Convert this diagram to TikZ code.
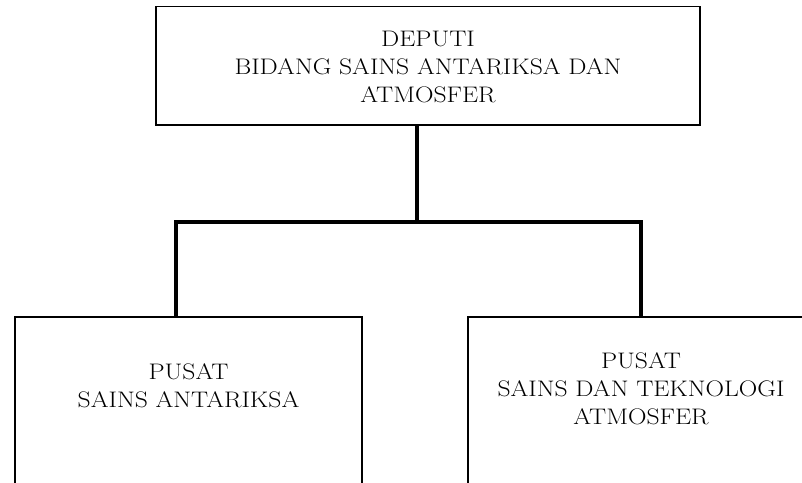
\documentclass[tikz,border=0pt]{standalone}
\tikzset{
  box/.style={draw=black, line width=1.6pt, rectangle, inner sep=0pt},
  lbl/.style={align=center, font=\fontsize{22.5}{28}\selectfont, inner sep=0pt, transform shape},
  conn/.style={draw=black, line width=3.6pt, line join=miter},
  connshadow/.style={draw=black!35, line width=3.6pt, line join=miter}
}
\begin{document}
\begin{tikzpicture}[x=1pt,y=-1pt]
\useasboundingbox (0,0) rectangle (802,482);
\clip (0,0) rectangle (802,482);
\fill[white] (0,0) rectangle (802,482);
% boxes
\node[box, minimum width=544pt, minimum height=118.5pt] (top) at (428,65.75) {};
\node[box, minimum width=347pt, minimum height=183pt] (left) at (188.5,408.5) {};
\node[box, minimum width=346pt, minimum height=183pt] (right) at (641,408.5) {};
% texts (horizontally widened like the original typeface)
\begin{scope}[shift={(428,67)}, xscale=1.14]
  \node[lbl] (toptext) at (0,0) {DEPUTI\\BIDANG SAINS ANTARIKSA DAN\\ATMOSFER};
\end{scope}
\begin{scope}[shift={(188.5,386)}, xscale=1.14]
  \node[lbl] (lefttext) at (0,0) {PUSAT\\SAINS ANTARIKSA};
\end{scope}
\begin{scope}[shift={(641,389)}, xscale=1.14]
  \node[lbl] (righttext) at (0,0) {PUSAT\\SAINS DAN TEKNOLOGI\\ATMOSFER};
\end{scope}
% connector junctions
\coordinate (j) at (417,222);
\coordinate (jl) at (176,222);
\coordinate (jr) at (641,222);
% shadow
\draw[connshadow, yshift=-3pt] (jl |- left.north) -- (jl) -- (jr) -- (jr |- right.north);
\draw[connshadow, yshift=-3pt] (top.south -| j) -- (j);
% connectors
\draw[conn] (top.south -| j) -- (j);
\draw[conn] (jl |- left.north) -- (jl) -- (jr) -- (jr |- right.north);
\end{tikzpicture}
\end{document}
